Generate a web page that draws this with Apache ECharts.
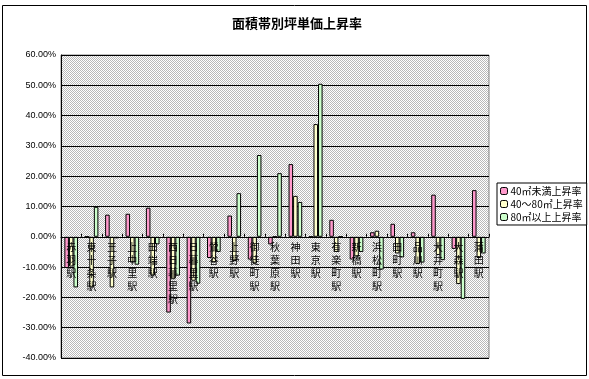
<!DOCTYPE html>
<html><head><meta charset="utf-8">
<script src="https://cdn.jsdelivr.net/npm/echarts@6/dist/echarts.min.js"></script>
<style>html,body{margin:0;padding:0;background:#fff}#c{width:589px;height:379px}</style>
</head><body><div id="c"></div>
<script>
var categories = ['赤羽駅','東十条駅','王子駅','上中里駅','田端駅','西日暮里駅','日暮里駅','鶯谷駅','上野駅','御徒町駅','秋葉原駅','神田駅','東京駅','有楽町駅','新橋駅','浜松町駅','田町駅','品川駅','大井町駅','大森駅','蒲田駅'];
var seriesNames = ['40㎡未満上昇率','40～80㎡上昇率','80㎡以上上昇率'];
var under40 = [-10.3, 0, 7.3, 7.6, 9.6, -25, -28.6, -7, 7, -7.5, -2.5, 24, 0, 5.6, -7.5, 1.5, 4.3, 1.5, 13.9, -4, 15.4];
var mid40to80 = [-9.8, -16.7, -16.7, -8.5, -12.8, -14, -14.5, -8.5, -8, -8.8, 0, 13.5, 37.2, -5, -6.5, 2, -5.5, -9, -6, -15.6, -7];
var over80 = [-16.7, 9.9, -0.5, -9.2, -2.5, -12.8, -15.5, -5, 14.4, 27, 21, 11.5, 50.5, 0, -5, -10.8, -6.8, -8.5, -7.7, -20.5, -5.5];
var yTicks = {min: -40, max: 60, interval: 10};

var cv = document.createElement('canvas');
cv.width = 2; cv.height = 2;
var cx = cv.getContext('2d');
cx.fillStyle = '#ffffff'; cx.fillRect(0,0,2,2);
cx.fillStyle = '#b8b8b8'; cx.fillRect(0,0,1,1); cx.fillRect(1,1,1,1);

var colors = ['#FF99CC','#FFFFCC','#CCFFCC'];
var font = '"Noto Sans CJK JP", sans-serif';
var gridTop = 55, gridBottom = 21, H = 379;
var plotH = H - gridTop - gridBottom;
var zeroOffset = -plotH * (0 - yTicks.min) / (yTicks.max - yTicks.min);
var chart = echarts.init(document.getElementById('c'), null, {renderer:'canvas'});
function mk(i, data){
  return {name: seriesNames[i], type:'bar', data:data, barGap:'0%', barCategoryGap:'33%',
    itemStyle:{color:colors[i], borderColor:'#000', borderWidth:1}, animation:false};
}
chart.setOption({
  animation:false,
  title:{text:'面積帯別坪単価上昇率', left:292, top:12, textAlign:'center',
    textStyle:{fontFamily:font, fontSize:13, fontWeight:'bold', color:'#000'}},
  graphic:[{type:'rect', shape:{x:2.5,y:5.5,width:584,height:370}, style:{fill:'none', stroke:'#000', lineWidth:1}, silent:true}],
  legend:{orient:'vertical', left:497, top:183, padding:[3,4,3,3], itemGap:3, itemWidth:7, itemHeight:7,
    borderColor:'#000', borderWidth:1, backgroundColor:'#fff',
    itemStyle:{borderColor:'#000', borderWidth:1},
    textStyle:{fontFamily:font, fontSize:10, color:'#000', padding:[0,0,0,-2]}, data:seriesNames},
  grid:{left:61, right:100, top:gridTop, bottom:gridBottom, show:true, borderColor:'#808080', borderWidth:1,
    outerBoundsMode:'none', containLabel:false,
    backgroundColor:{image:cv, repeat:'repeat'}},
  xAxis:{type:'category', data:categories, offset:zeroOffset, z:5,
    axisLine:{onZero:false, lineStyle:{color:'#000', width:1}},
    axisTick:{show:true, inside:true, length:3, lineStyle:{color:'#000'}},
    axisLabel:{interval:0, margin:4, fontFamily:font, fontSize:10, lineHeight:13, color:'#000',
      formatter:function(v){return v.split('').join('\n');}},
    splitLine:{show:false}},
  yAxis:{type:'value', min:yTicks.min, max:yTicks.max, interval:yTicks.interval,
    axisLine:{show:true, lineStyle:{color:'#000'}}, axisTick:{show:false},
    axisLabel:{margin:5, fontFamily:'"Liberation Sans", sans-serif', fontSize:9, color:'#000',
      formatter:function(v){return v.toFixed(2)+'%';}},
    splitLine:{show:true, lineStyle:{color:'#000', width:1}}},
  series:[mk(0,under40), mk(1,mid40to80), mk(2,over80)]
});
</script></body></html>
